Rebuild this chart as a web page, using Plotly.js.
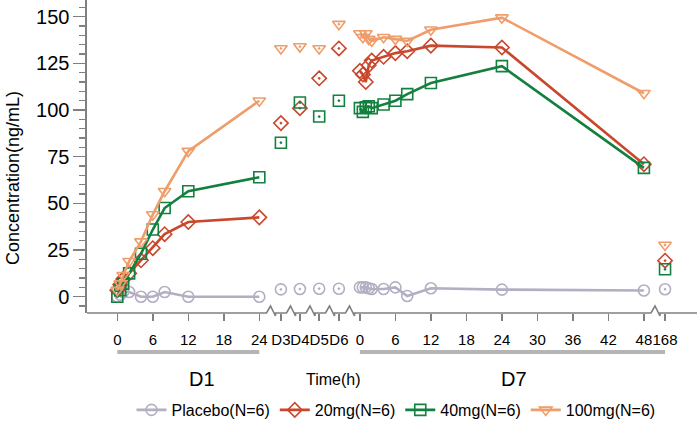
<!DOCTYPE html>
<html>
<head>
<meta charset="utf-8">
<script src="https://cdn.plot.ly/plotly-3.0.1.min.js"></script>
<style>html,body{margin:0;padding:0;background:#fff;}#chart{width:699px;height:421px;}</style>
</head>
<body>
<div id="chart"></div>
<script>
// ---------------- DATA ----------------
const groupNames = ['Placebo(N=6)', '20mg(N=6)', '40mg(N=6)', '100mg(N=6)'];
const d1Hours = [0, 0.5, 1, 2, 4, 6, 8, 12, 24];
const d7Hours = [0, 0.5, 1, 1.5, 2, 4, 6, 8, 12, 24, 48];
const midDays = ['D3', 'D4', 'D5', 'D6'];
const lateHour = 168;

const placeboD1 = [0, 1, 2.5, 2.5, 0, 0, 2.5, 0, 0];
const mg20D1    = [3.5, 6.5, 9.5, 12.5, 19.5, 26, 33.5, 40, 42.5];
const mg40D1    = [0, 3.5, 7, 12.5, 23, 36, 47.5, 56.5, 64];
const mg100D1   = [3.5, 7, 11.5, 19, 29.5, 44, 56.5, 78, 105];

const placeboMid = [3.9, 4.1, 4.3, 4.3];
const mg20Mid    = [93, 101, 117, 133];
const mg40Mid    = [82.5, 104, 96.5, 105];
const mg100Mid   = [133, 134, 133, 146];

const placeboD7 = [5, 5, 5, 4.5, 4.1, 4.1, 5, 0.4, 4.5, 3.8, 3.3];
const mg20D7    = [121, 119, 115, 124, 126.5, 128.5, 130.5, 131.5, 134.5, 133.5, 71];
const mg40D7    = [101, 99, 101.5, 102, 101, 103, 105, 108.5, 114.5, 123.5, 69];
const mg100D7   = [141, 139, 141, 138, 137, 139, 138, 137, 143, 149.5, 109];

const placebo168 = 4.0;
const mg20_168   = 19.3;
const mg40_168   = 14.7;
const mg100_168  = 27.7;

const d1TickHours = [0, 6, 12, 18, 24];
const d7TickHours = [0, 6, 12, 18, 24, 30, 36, 42, 48];
const yTickVals = [0, 25, 50, 75, 100, 125, 150];

// ---------------- LAYOUT / BROKEN AXIS MAPPING ----------------
const PXU = 5.917;            // pixels per axis unit
const X0PX = 117.3;           // pixel of D1 hour 0
const MID_POS = {D3: 27.65, D4: 30.86, D5: 34.12, D6: 37.45};
const D7_OFFSET = 41.0;
const LATE_POS = 92.57;
const xD1 = h => h;
const xD7 = h => D7_OFFSET + h;
const xMid = d => MID_POS[d];
const u = px => (px - X0PX) / PXU;

const colors = ['#b4aec3', '#c9472c', '#13803f', '#ee9d6b'];
const openSym = ['circle-open', 'diamond-open', 'square-open', 'triangle-down-open'];
const dotSym = ['circle-open-dot', 'diamond-open-dot', 'square-open-dot', 'triangle-down-open-dot'];
const d1Vals = [placeboD1, mg20D1, mg40D1, mg100D1];
const midVals = [placeboMid, mg20Mid, mg40Mid, mg100Mid];
const d7Vals = [placeboD7, mg20D7, mg40D7, mg100D7];
const lateVals = [placebo168, mg20_168, mg40_168, mg100_168];

const sans = '"Liberation Sans", Arial, sans-serif';

const traces = [];
for (let g = 0; g < 4; g++) {
  const mk = {symbol: openSym[g], size: 11, color: colors[g], line: {color: colors[g], width: 1.6}};
  traces.push({
    x: d1Hours.map(xD1), y: d1Vals[g], mode: 'lines+markers', name: groupNames[g],
    legendgroup: 'g' + g, line: {color: colors[g], width: 2.6}, marker: mk, cliponaxis: false
  });
  traces.push({
    x: d7Hours.map(xD7), y: d7Vals[g], mode: 'lines+markers', name: groupNames[g],
    legendgroup: 'g' + g, showlegend: false, line: {color: colors[g], width: 2.6}, marker: mk, cliponaxis: false
  });
  traces.push({
    x: midDays.map(xMid).concat([LATE_POS]), y: midVals[g].concat([lateVals[g]]), mode: 'markers',
    name: groupNames[g], legendgroup: 'g' + g, showlegend: false, cliponaxis: false,
    marker: {symbol: dotSym[g], size: 11, color: colors[g], line: {color: colors[g], width: 1.6}}
  });
}

const tickvals = d1TickHours.map(xD1).concat(midDays.map(xMid), d7TickHours.map(xD7), [LATE_POS]);
const ticktext = d1TickHours.map(String).concat(midDays, d7TickHours.map(String), [String(lateHour)]);

const plotH = 313, plotW = 610, ml = 87;
const xL = u(ml), xR = u(ml + plotW);
const py = p => p / plotH;

// axis line with zigzag breaks
const breakStarts = [266.5, 286.5, 306, 325.5, 345.5, 651];
let path = `M ${xL},0`;
breakStarts.forEach(b => {
  path += ` L ${u(b)},0 L ${u(b + 4)},${py(7)} L ${u(b + 9)},${py(-3)} L ${u(b + 9)},0`;
});
path += ` L ${xR},0`;

const shapes = [
  {type: 'path', xref: 'x', yref: 'paper', path: path, line: {color: '#808080', width: 1.6}},
  {type: 'line', xref: 'x', yref: 'paper', x0: xD1(0), x1: xD1(24), y0: py(-39), y1: py(-39), line: {color: '#b5b5b5', width: 4}},
  {type: 'line', xref: 'x', yref: 'paper', x0: xD7(0), x1: LATE_POS, y0: py(-39), y1: py(-39), line: {color: '#b5b5b5', width: 4}}
];

const annotations = [
  {text: 'D1', xref: 'x', yref: 'paper', x: u(202), y: py(-66), yanchor: 'middle', showarrow: false, font: {family: sans, size: 20, color: '#000'}},
  {text: 'Time(h)', xref: 'x', yref: 'paper', x: u(333), y: py(-66), yanchor: 'middle', showarrow: false, font: {family: sans, size: 16, color: '#000'}},
  {text: 'D7', xref: 'x', yref: 'paper', x: u(514), y: py(-66), yanchor: 'middle', showarrow: false, font: {family: sans, size: 20, color: '#000'}},
  {text: 'Concentration(ng/mL)', xref: 'paper', yref: 'paper', x: (13 - ml) / plotW, xanchor: 'center',
   y: 1 - 178 / plotH, yanchor: 'middle',
   textangle: -90, showarrow: false, font: {family: sans, size: 18, color: '#000'}}
];

const layout = {
  width: 699, height: 421,
  margin: {l: ml, r: 699 - ml - plotW, t: 0, b: 421 - plotH, autoexpand: false},
  paper_bgcolor: '#fff', plot_bgcolor: '#fff',
  showlegend: true,
  legend: {orientation: 'h', x: (396 - ml) / plotW, xanchor: 'center', y: py(-97), yanchor: 'middle',
           font: {family: sans, size: 16, color: '#000'}, itemwidth: 30, tracegroupgap: 0},
  xaxis: {range: [xL, xR], showline: false, showgrid: false, zeroline: false, automargin: false,
          tickmode: 'array', tickvals: tickvals, ticktext: ticktext, tickangle: 0,
          ticks: 'outside', ticklen: 7, tickwidth: 1.5, tickcolor: '#808080', ticklabelstandoff: 6,
          tickfont: {family: sans, size: 15, color: '#000'}},
  yaxis: {range: [-8.73, 158.95], showline: true, linecolor: '#808080', linewidth: 1.6, automargin: false,
          showgrid: false, zeroline: false, tickmode: 'array', tickvals: yTickVals,
          ticks: 'outside', ticklen: 12, tickwidth: 1.5, tickcolor: '#808080',
          minor: {dtick: 5, ticks: 'outside', ticklen: 6, tickwidth: 1.2, tickcolor: '#808080', showgrid: false},
          tickfont: {family: sans, size: 20, color: '#000'}},
  shapes: shapes,
  annotations: annotations
};

Plotly.newPlot('chart', traces, layout, {displayModeBar: false, staticPlot: true});
</script>
</body>
</html>
